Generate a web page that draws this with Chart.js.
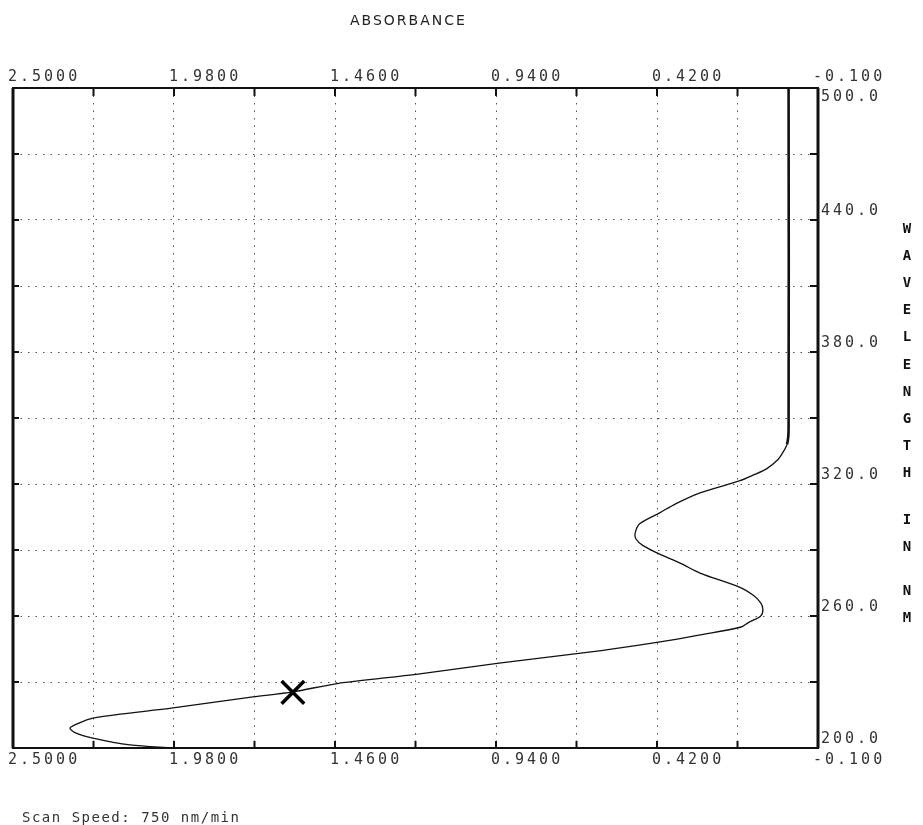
<!DOCTYPE html>
<html>
<head>
<meta charset="utf-8">
<script src="https://cdn.jsdelivr.net/npm/chart.js@4.4.1/dist/chart.umd.min.js"></script>
<style>
  html, body { margin: 0; padding: 0; background: #fff; }
  #wrap { position: relative; width: 923px; height: 825px; overflow: hidden; }
  #pvChart { position: absolute; left: 0; top: 0; }
  .txt { position: absolute; font-family: "DejaVu Sans Mono", monospace; color: #222; white-space: pre; }
  #title { left: 350px; top: 12px; font-family: "DejaVu Sans", sans-serif; font-size: 14px; letter-spacing: 2px; line-height: 16px; }
  #scan { left: 22px; top: 809px; font-size: 14px; letter-spacing: 1.5px; line-height: 16px; color: #333; }
  .vl { position: absolute; left: 899px; width: 16px; text-align: center; font-family: "DejaVu Sans Mono", monospace; font-weight: bold; font-size: 14px; line-height: 14px; color: #111; }
</style>
</head>
<body>
<div id="wrap">
  <canvas id="pvChart" width="923" height="825"></canvas>
  <div class="txt" id="title">ABSORBANCE</div>
  <div class="txt" id="scan">Scan Speed: 750 nm/min</div>
</div>
<script>
// ===== DATA =====
const wavelength = [500, 345, 338, 334, 331, 327, 324, 321.5, 316, 311, 307, 302, 298, 295, 292, 288, 284, 279.5,
  273, 269.5, 266, 263, 260, 257, 255, 251.4, 248.2, 244.3, 238.6, 233.6, 229.3, 225.5, 223.2, 218.2, 213.6,
  210.5, 209, 207, 204.5, 201.4, 200];
const absorbance = [-0.005, -0.005, 0.0, 0.015, 0.03, 0.065, 0.11, 0.152, 0.281, 0.36, 0.41, 0.475, 0.49, 0.488, 0.465, 0.41, 0.345, 0.281,
  0.152, 0.11, 0.085, 0.078, 0.085, 0.125, 0.148, 0.28, 0.41, 0.60, 0.93, 1.192, 1.453, 1.596, 1.725, 1.983, 2.242,
  2.30, 2.316, 2.30, 2.242, 2.122, 1.983];

const markerAbs = [1.596];
const markerWl = [225.3];

const xTicks = [2.5, 2.24, 1.98, 1.72, 1.46, 1.2, 0.94, 0.68, 0.42, 0.16, -0.1];
const xLabelValues = [2.5, 1.98, 1.46, 0.94, 0.42, -0.1];
const xTickLabels = ["2.5000", "1.9800", "1.4600", "0.9400", "0.4200", "-0.100"];

const yTicks = [200, 230, 260, 290, 320, 350, 380, 410, 440, 470, 500];
const yLabelValues = [200, 260, 320, 380, 440, 500];
const yTickLabels = ["200.0", "260.0", "320.0", "380.0", "440.0", "500.0"];

const axisTitleGroups = ["WAVELENGTH", "IN", "NM"];

// ===== VERTICAL AXIS TITLE =====
const groupTops = [221, 512, 583];
const letterStep = 27.1;
const wrap = document.getElementById("wrap");
axisTitleGroups.forEach((word, g) => {
  word.split("").forEach((ch, i) => {
    const d = document.createElement("div");
    d.className = "vl";
    d.style.top = (groupTops[g] + i * letterStep) + "px";
    d.textContent = ch;
    wrap.appendChild(d);
  });
});

// ===== CHART =====
function xLabel(v) {
  const i = xLabelValues.findIndex(t => Math.abs(t - v) < 1e-6);
  return i >= 0 ? xTickLabels[i] : "";
}
function yLabel(v) {
  const i = yLabelValues.findIndex(t => Math.abs(t - v) < 1e-6);
  if (i < 0) return "";
  if (v === 500) return ["", yTickLabels[i]];
  return [yTickLabels[i], ""];
}

const tickFont = { family: "'DejaVu Sans Mono', monospace", size: 15 };

const framePlugin = {
  id: "frame",
  beforeDraw(chart) {
    chart.ctx.letterSpacing = "3px";
  },
  afterDraw(chart) {
    const { ctx, chartArea: a, scales } = chart;
    ctx.save();
    ctx.strokeStyle = "#111";
    ctx.setLineDash([]);
    // frame
    ctx.lineWidth = 2;
    ctx.strokeRect(a.left, a.top, a.right - a.left, a.bottom - a.top);
    ctx.lineWidth = 3;
    ctx.beginPath();
    ctx.moveTo(a.left, a.top); ctx.lineTo(a.left, a.bottom);
    ctx.moveTo(a.right, a.top); ctx.lineTo(a.right, a.bottom);
    ctx.stroke();
    // inner tick marks
    ctx.lineWidth = 2;
    ctx.beginPath();
    xTicks.forEach(v => {
      const px = scales.x.getPixelForValue(v);
      ctx.moveTo(px, a.top); ctx.lineTo(px, a.top + 8);
      ctx.moveTo(px, a.bottom); ctx.lineTo(px, a.bottom - 7);
    });
    yTicks.forEach(v => {
      const py = scales.y.getPixelForValue(v);
      ctx.moveTo(a.right, py); ctx.lineTo(a.right - 8, py);
      ctx.moveTo(a.left, py); ctx.lineTo(a.left + 6, py);
    });
    ctx.stroke();
    ctx.restore();
  }
};

const curve = wavelength.map((w, i) => ({ x: absorbance[i], y: w }));
const marker = markerWl.map((w, i) => ({ x: markerAbs[i], y: w }));

new Chart(document.getElementById("pvChart"), {
  type: "scatter",
  data: {
    datasets: [{
      data: curve,
      showLine: true,
      borderColor: "#111",
      borderWidth: 1.3,
      pointRadius: 0,
      tension: 0.3,
      segment: {
        borderWidth: c => (c.p0.parsed.x < 0.01 && c.p1.parsed.x < 0.01) ? 2.6 : 1.3
      }
    }, {
      data: marker,
      showLine: false,
      pointStyle: "crossRot",
      pointRadius: 16,
      borderWidth: 3.5,
      borderColor: "#000",
      backgroundColor: "#000"
    }]
  },
  options: {
    responsive: false,
    animation: false,
    devicePixelRatio: 1,
    layout: { autoPadding: false, padding: { left: 13, top: 0, right: 0, bottom: 0 } },
    plugins: { legend: { display: false }, tooltip: { enabled: false } },
    scales: {
      x: {
        type: "linear", position: "top", reverse: true, min: -0.1, max: 2.5,
        afterBuildTicks: s => { s.ticks = xTicks.map(v => ({ value: v })); },
        afterFit: s => { s.height = 88; },
        grid: { color: "#555", lineWidth: 1, drawTicks: false },
        border: { display: false, dash: [1.5, 6] },
        ticks: { autoSkip: false, maxRotation: 0, align: "start", labelOffset: -5, padding: 2,
                 font: tickFont, color: "#333", callback: v => xLabel(v) }
      },
      x2: {
        type: "linear", position: "bottom", reverse: true, min: -0.1, max: 2.5,
        afterBuildTicks: s => { s.ticks = xTicks.map(v => ({ value: v })); },
        afterFit: s => { s.height = 77; },
        grid: { display: false, drawTicks: false },
        border: { display: false },
        ticks: { autoSkip: false, maxRotation: 0, align: "start", labelOffset: -5, padding: 3,
                 font: tickFont, color: "#333", callback: v => xLabel(v) }
      },
      y: {
        type: "linear", position: "right", min: 200, max: 500,
        afterBuildTicks: s => { s.ticks = yTicks.map(v => ({ value: v })); },
        afterFit: s => { s.width = 105; },
        grid: { color: "#555", lineWidth: 1, drawTicks: false },
        border: { display: false, dash: [1.5, 6] },
        ticks: { autoSkip: false, padding: 3, font: tickFont, color: "#333", callback: v => yLabel(v) }
      }
    }
  },
  plugins: [framePlugin]
});
</script>
</body>
</html>
